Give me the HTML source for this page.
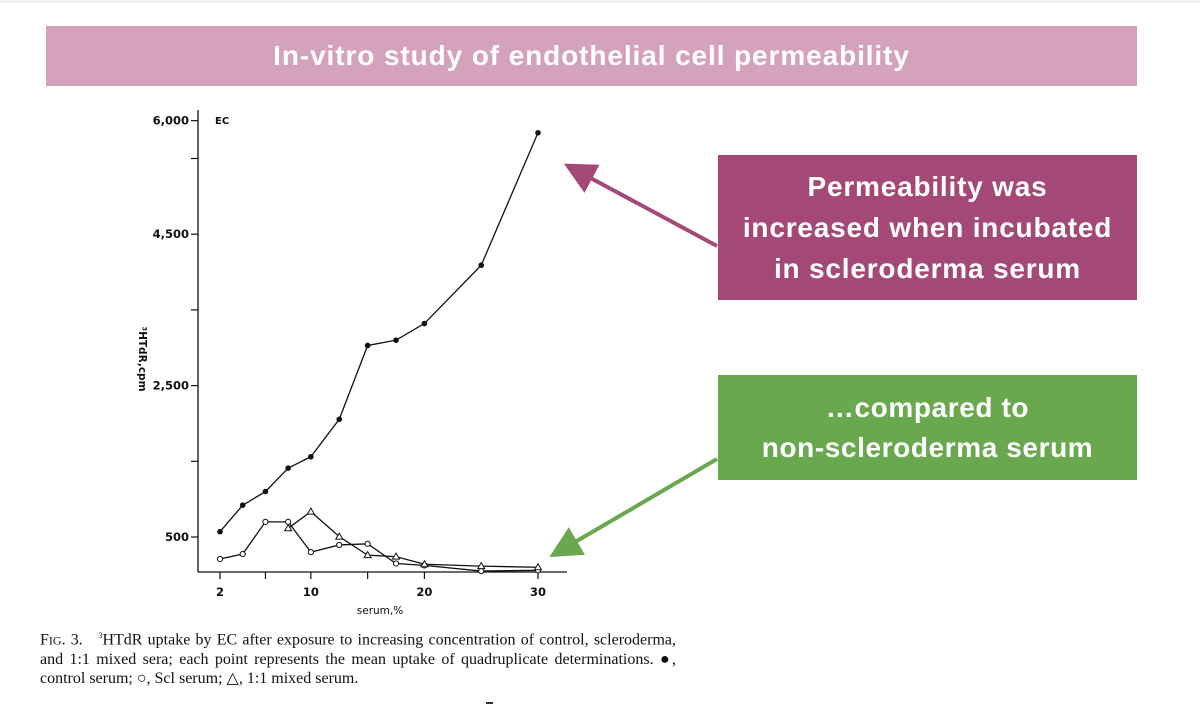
<!DOCTYPE html>
<html><head><meta charset="utf-8"><style>
body{margin:0;width:1200px;height:726px;background:#fff;position:relative;overflow:hidden;font-family:"Liberation Sans",sans-serif}
.box{position:absolute;color:#fff;font-weight:bold;text-align:center;display:flex;align-items:center;justify-content:center}
.cl{text-align:justify;text-align-last:justify;white-space:nowrap}
</style></head><body>
<div style="position:absolute;left:0;top:0;width:1200px;height:3px;background:#f2f2f4"></div>
<div class="box" style="left:46px;top:26px;width:1091px;height:60px;background:#d4a2bc;font-size:28px;letter-spacing:0.9px">In-vitro study of endothelial cell permeability</div>
<div class="box" style="left:718px;top:155px;width:419px;height:145px;background:#a44977;font-size:28px;letter-spacing:0.8px;line-height:41px">Permeability was<br>increased when incubated<br>in scleroderma serum</div>
<div class="box" style="left:718px;top:375px;width:419px;height:105px;background:#6aa84f;font-size:28px;letter-spacing:0.6px;line-height:40px">…compared to<br>non-scleroderma serum</div>
<svg id="chart" width="1200" height="726" style="position:absolute;left:0;top:0">
<defs>
<marker id="mh" markerWidth="8" markerHeight="8" refX="2" refY="4" orient="auto" markerUnits="strokeWidth"><path d="M0,0 L8,4 L0,8 z" fill="#a44977"/></marker>
<marker id="gh" markerWidth="8" markerHeight="8" refX="2" refY="4" orient="auto" markerUnits="strokeWidth"><path d="M0,0 L8,4 L0,8 z" fill="#6aa84f"/></marker>
</defs>
<line x1="717" y1="246" x2="585" y2="175" stroke="#a44977" stroke-width="4" marker-end="url(#mh)"/>
<line x1="717" y1="459" x2="570" y2="545" stroke="#6aa84f" stroke-width="4" marker-end="url(#gh)"/>
<g id="plot" font-family="'DejaVu Sans',sans-serif" fill="#111"></g>
</svg>
<div style="position:absolute;left:40px;top:626px;width:636px;font-family:'Liberation Serif',serif;font-size:16px;line-height:19px;color:#111">
<div class="cl">F<span style="font-size:12px">IG</span>. 3.&nbsp;&nbsp; <sup style="font-size:8px">3</sup>HTdR uptake by EC after exposure to increasing concentration of control, scleroderma,</div>
<div class="cl">and 1:1 mixed sera; each point represents the mean uptake of quadruplicate determinations. ●,</div>
<div>control serum; ○, Scl serum; △, 1:1 mixed serum.</div>
</div>
<div style="position:absolute;left:486px;top:702px;width:7px;height:2px;background:#333"></div>
<script>
const xVals=[2,4,6,8,10,12.5,15,17.5,20,25,30];
const controlVals=[570,920,1100,1410,1560,2055,3030,3100,3320,4090,5840];
const sclVals=[210,275,700,700,300,395,410,150,125,50,60];
const mixedX=[8,10,12.5,15,17.5,20,25,30];
const mixedVals=[615,835,505,260,240,140,115,100];
const yTicks=[500,1500,2500,3500,4500,5500,6000];
const yLabels={500:"500",2500:"2,500",4500:"4,500",6000:"6,000"};
const xTicks=[2,6,10,15,20,30];
const xLabels={2:"2",10:"10",20:"20",30:"30"};
const NS="http://www.w3.org/2000/svg";
const g=document.getElementById('plot');
const sx=v=>220+(v-2)*(318/28);
const sy=v=>537-(v-500)*0.0757;
function mk(t,a){const e=document.createElementNS(NS,t);for(const k in a)e.setAttribute(k,a[k]);g.appendChild(e);return e;}
let e;
e=mk('line',{x1:198,y1:110,x2:198,y2:572,stroke:'#111','stroke-width':1.3});


e=mk('line',{x1:198,y1:572,x2:567,y2:572,stroke:'#111','stroke-width':1.3});


yTicks.forEach(v=>{const y=sy(v);
 e=mk('line',{x1:191,y1:y,x2:198,y2:y,stroke:'#111','stroke-width':1.2});
 
 
 if(yLabels[v]){e=mk('text',{x:189,y:y+4,'text-anchor':'end','font-size':11.5,'font-weight':'bold'});e.textContent=yLabels[v];
 
 }
});
xTicks.forEach(v=>{const x=sx(v);
 e=mk('line',{x1:x,y1:572,x2:x,y2:579,stroke:'#111','stroke-width':1.2});
 
 
 if(xLabels[v]){e=mk('text',{x:x,y:596,'text-anchor':'middle','font-size':11.5,'font-weight':'bold'});e.textContent=xLabels[v];
 
 }
});
e=mk('text',{x:380,y:614,'text-anchor':'middle','font-size':10.5});e.textContent='serum,%';


e=mk('text',{x:0,y:0,'text-anchor':'middle','font-size':10.5,'font-weight':'bold',transform:'translate(139,359) rotate(90)'});e.textContent='³HTdR,cpm';


e=mk('text',{x:215,y:124,'font-size':10,'font-weight':'bold'});e.textContent='EC';


function line(xs,ys,name){const pts=xs.map((x,i)=>sx(x)+','+sy(ys[i])).join(' ');
 const p=mk('polyline',{points:pts,fill:'none',stroke:'#111','stroke-width':1.3});
 
 }
line(xVals,sclVals,'scl-serum-line');
line(mixedX,mixedVals,'mixed-serum-line');
line(xVals,controlVals,'control-serum-line');
xVals.forEach((x,i)=>{const c=mk('circle',{cx:sx(x),cy:sy(sclVals[i]),r:2.6,fill:'#fff',stroke:'#111','stroke-width':1});
 
 });
mixedX.forEach((x,i)=>{const X=sx(x),Y=sy(mixedVals[i]);const t=mk('polygon',{points:`${X},${Y-3.5} ${X-3.5},${Y+2.5} ${X+3.5},${Y+2.5}`,fill:'#fff',stroke:'#111','stroke-width':1});
 
 });
xVals.forEach((x,i)=>{const c=mk('circle',{cx:sx(x),cy:sy(controlVals[i]),r:2.8,fill:'#111'});
 
 });
</script>
</body></html>
